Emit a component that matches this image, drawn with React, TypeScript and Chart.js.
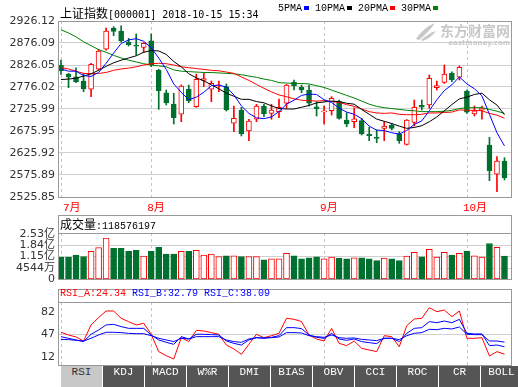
import React, { useEffect, useRef } from "react";
import { Chart, registerables } from "chart.js";

Chart.register(...registerables);

// ---------------- data ----------------
const dates = [
  "2018-07-16","2018-07-17","2018-07-18","2018-07-19","2018-07-20","2018-07-23","2018-07-24","2018-07-25","2018-07-26","2018-07-27","2018-07-30","2018-07-31",
  "2018-08-01","2018-08-02","2018-08-03","2018-08-06","2018-08-07","2018-08-08","2018-08-09","2018-08-10","2018-08-13","2018-08-14","2018-08-15","2018-08-16","2018-08-17","2018-08-20","2018-08-21","2018-08-22","2018-08-23","2018-08-24","2018-08-27","2018-08-28","2018-08-29","2018-08-30","2018-08-31",
  "2018-09-03","2018-09-04","2018-09-05","2018-09-06","2018-09-07","2018-09-10","2018-09-11","2018-09-12","2018-09-13","2018-09-14","2018-09-17","2018-09-18","2018-09-19","2018-09-20","2018-09-21","2018-09-25","2018-09-26","2018-09-27","2018-09-28",
  "2018-10-08","2018-10-09","2018-10-10","2018-10-11","2018-10-12","2018-10-15",
];

const open = [2826.0,2805.6,2799.4,2789.7,2770.8,2816.3,2861.8,2910.2,2903.4,2878.4,2871.5,2866.3,2881.3,2814.7,2763.0,2737.3,2714.0,2771.5,2731.2,2791.0,2770.8,2778.5,2776.7,2693.5,2723.7,2676.0,2702.6,2732.8,2716.2,2719.8,2739.0,2786.7,2775.3,2769.2,2731.2,2719.2,2722.1,2742.6,2700.9,2697.1,2699.4,2669.1,2661.6,2682.1,2689.6,2669.1,2645.7,2695.7,2734.5,2735.1,2774.4,2786.7,2807.2,2798.1,2766.9,2714.6,2723.7,2644.1,2577.5,2607.7];
const close = [2813.1,2798.1,2788.1,2771.5,2827.6,2857.9,2903.4,2902.7,2881.3,2872.2,2868.6,2875.4,2826.0,2767.6,2740.3,2706.2,2778.3,2744.9,2793.5,2795.0,2784.4,2781.0,2723.7,2704.8,2669.1,2698.7,2732.8,2714.6,2723.7,2729.8,2780.6,2779.0,2769.2,2739.0,2726.7,2722.1,2750.3,2704.8,2691.9,2703.9,2669.1,2665.3,2659.3,2687.3,2682.1,2653.9,2700.9,2729.8,2729.9,2795.8,2779.0,2805.6,2791.9,2820.8,2718.5,2722.1,2727.6,2585.7,2607.7,2569.7];
const high = [2837.4,2807.2,2819.9,2807.2,2829.9,2861.8,2910.2,2913.2,2915.4,2886.8,2896.6,2876.8,2896.6,2816.3,2769.2,2761.7,2780.6,2780.6,2805.6,2807.2,2789.7,2789.7,2782.8,2732.8,2729.8,2702.6,2736.7,2736.7,2736.7,2748.7,2782.0,2791.9,2780.6,2780.6,2742.6,2732.8,2754.0,2746.4,2717.6,2728.9,2704.8,2684.4,2678.2,2697.1,2693.5,2674.4,2702.0,2746.4,2746.4,2803.3,2789.7,2826.0,2810.8,2823.8,2769.2,2732.8,2732.8,2661.6,2617.5,2615.2];
const low = [2804.9,2774.4,2785.8,2765.3,2754.0,2814.7,2860.0,2892.7,2877.7,2869.3,2848.8,2854.0,2822.2,2725.3,2735.1,2691.9,2697.1,2740.3,2729.8,2776.7,2742.6,2765.3,2721.4,2674.4,2664.6,2653.9,2697.1,2708.5,2702.6,2706.2,2727.6,2769.2,2763.0,2732.8,2710.1,2691.9,2712.3,2702.6,2685.7,2683.4,2666.9,2653.9,2649.3,2653.9,2678.2,2648.0,2644.0,2687.3,2723.7,2727.6,2769.2,2784.4,2788.1,2791.9,2716.2,2710.1,2702.6,2562.9,2537.9,2564.5];

const ma5 = [2817,2812,2812,2802,2800,2809,2830,2853,2875,2883,2886,2880,2865,2842,2816,2783,2764,2747,2753,2764,2779,2780,2776,2758,2733,2716,2706,2704,2708,2720,2737,2746,2757,2760,2759,2747,2741,2728,2719,2714,2704,2687,2678,2677,2672,2669,2677,2691,2699,2722,2747,2768,2781,2799,2783,2772,2756,2714,2672,2642];
const ma10 = [2793,2794,2796,2801,2806,2814,2823,2831,2837,2842,2847,2855,2859,2858,2850,2834,2822,2806,2797,2790,2781,2772,2762,2755,2748,2748,2743,2740,2733,2727,2726,2726,2730,2734,2740,2742,2744,2743,2739,2737,2725,2714,2703,2698,2693,2687,2682,2684,2688,2697,2708,2722,2736,2749,2753,2759,2762,2747,2735,2713];
const ma20 = [2820,2817,2812,2807,2806,2807,2809,2814,2817,2819,2822,2826,2829,2830,2829,2826,2822,2820,2818,2816,2814,2813,2810,2807,2799,2791,2782,2773,2765,2758,2754,2749,2746,2745,2744,2745,2743,2741,2736,2732,2726,2720,2717,2716,2717,2714,2713,2713,2714,2717,2717,2718,2719,2724,2723,2723,2722,2716,2712,2705];
const ma30 = [2906,2899,2890,2879,2870,2861,2855,2848,2842,2837,2833,2829,2826,2824,2822,2815,2812,2811,2810,2809,2809,2808,2807,2806,2804,2801,2798,2794,2791,2786,2785,2784,2784,2783,2779,2775,2769,2763,2757,2751,2744,2737,2732,2729,2727,2725,2723,2722,2720,2720,2720,2721,2723,2727,2729,2729,2729,2725,2721,2716];

// volume in 亿 (100 million)
const volume = [1.12,1.12,1.25,1.16,1.47,1.70,2.28,1.66,1.66,1.47,1.54,1.18,1.47,1.72,1.31,1.31,1.47,1.47,1.53,1.25,1.30,1.16,1.20,1.20,1.16,1.16,1.16,0.96,1.02,1.02,1.35,1.20,1.02,1.08,1.14,1.02,1.12,1.06,1.02,1.08,1.08,1.02,0.91,1.06,1.02,0.91,1.18,1.41,1.14,1.60,1.12,1.41,1.25,1.35,1.49,1.20,1.12,1.95,1.72,1.18576197];

const rsiA = [49.4,46.3,44.0,39.4,57.8,66.2,73.8,73.8,65.4,61.6,57.8,59.7,47.1,27.2,22.6,18.8,43.2,38.7,51.6,50.9,49.0,47.1,34.8,30.3,24.1,35.6,47.1,43.2,45.5,48.2,65.4,64.3,61.6,46.3,41.7,39.4,53.9,36.7,34.1,39.4,31.0,29.1,27.2,45.5,44.4,32.9,57.0,64.6,65.4,77.6,73.0,74.9,67.3,73.8,42.5,42.5,43.2,22.2,27.2,24.34];
const rsiB = [44.4,42.5,40.6,38.7,47.1,52.0,57.8,58.5,55.9,53.9,53.9,53.9,46.3,40.6,37.9,35.6,44.4,41.7,47.1,47.1,46.7,46.3,39.4,36.7,34.8,40.6,43.2,42.5,43.6,45.5,54.7,54.7,53.6,46.3,43.6,42.5,48.2,41.7,40.2,41.7,38.7,37.5,36.4,42.5,42.5,38.7,48.2,53.9,54.7,61.6,60.4,62.3,60.4,64.2,48.2,47.5,47.5,34.1,34.8,32.79];
const rsiC = [41.3,41.0,40.2,39.4,42.5,46.3,49.4,49.4,49.0,48.2,47.8,47.8,45.5,42.5,40.6,38.7,42.5,41.7,44.4,44.4,44.4,44.4,40.6,38.7,37.9,41.7,43.2,42.9,43.2,44.0,49.0,49.0,48.6,45.5,44.4,43.6,46.3,43.2,42.5,42.9,41.3,40.6,39.8,42.5,42.5,41.0,45.5,48.2,49.0,52.8,52.4,53.9,53.2,55.5,47.1,46.7,46.7,39.4,39.4,38.09];

const priceTickLabels = ["2926.12","2876.09","2826.05","2776.02","2725.99","2675.95","2625.92","2575.89","2525.85"];
const volTickValues = [-0.2356, 0.4544, 1.15, 1.84, 2.53];
const volTickLabels = ["0", "4544万", "1.15亿", "1.84亿", "2.53亿"];
const rsiTickValues = [82, 47, 12];
const rsiTickLabels = ["82", "47", "12"];

const maNames = ["5PMA", "10PMA", "20PMA", "30PMA"];
const tabs = ["RSI", "KDJ", "MACD", "W%R", "DMI", "BIAS", "OBV", "CCI", "ROC", "CR", "BOLL"];

// ---------------- styles ----------------
const RED = "#ff0000";
const GREEN = "#00702f";
const BLUE = "#0000ff";
const maColors = ["#0000ff", "#000000", "#ff0000", "#008000"];
const FRAME = "#999999";
const GRID = "#d0d0d0";
const DASH = "#c4c4c4";
const TICK_FONT = '11px "DejaVu Sans", sans-serif';
const MONO = '"Liberation Mono", "DejaVu Sans Mono", monospace';
const CJK = '"Noto Sans CJK SC", sans-serif';

const X_MIN = -0.4;
const X_MAX = 60.0;
const AXIS_W = 58;

const isUp = (i: number) => close[i] >= open[i];
const monthStarts = dates
  .map((d, i) => ({ i, m: parseInt(d.slice(5, 7), 10) }))
  .filter((o, k, arr) => k === 0 || o.m !== arr[k - 1].m);

const xScale = { type: "linear", min: X_MIN, max: X_MAX, offset: false, display: false, grid: { offset: false } };

function panelPlugin(extra?: (chart: any) => void) {
  return {
    id: "panel",
    beforeDatasetsDraw(chart: any) {
      const { ctx, chartArea: a, scales } = chart;
      ctx.save();
      ctx.strokeStyle = DASH;
      ctx.lineWidth = 1;
      ctx.setLineDash([3, 3]);
      monthStarts.forEach(({ i }) => {
        const x = Math.round(scales.x.getPixelForValue(i)) + 0.5;
        ctx.beginPath();
        ctx.moveTo(x, a.top);
        ctx.lineTo(x, a.bottom);
        ctx.stroke();
      });
      ctx.restore();
    },
    afterDraw(chart: any) {
      const { ctx, chartArea: a } = chart;
      ctx.save();
      ctx.strokeStyle = FRAME;
      ctx.lineWidth = 1;
      ctx.strokeRect(Math.round(a.left) + 0.5, Math.round(a.top) + 0.5, Math.round(a.right - a.left) - 1, Math.round(a.bottom - a.top));
      ctx.restore();
      if (extra) extra(chart);
    },
  };
}

function baseOptions(y: any, padding: any) {
  return {
    responsive: false,
    animation: false,
    events: [],
    layout: { padding },
    plugins: { legend: { display: false }, tooltip: { enabled: false } },
    scales: { x: xScale, y },
  };
}

function priceConfig(): any {
  const idx = dates.map((_, i) => i);
  const watermark = {
    id: "watermark",
    beforeDatasetsDraw(chart: any) {
      const { ctx, chartArea: a } = chart;
      ctx.save();
      ctx.fillStyle = "#c8c8c8";
      ctx.textAlign = "right";
      ctx.textBaseline = "middle";
      ctx.font = 'bold 14px "Noto Sans CJK SC", sans-serif';
      ctx.fillText("东方财富网", a.right - 2, a.top + 10);
      ctx.font = 'bold 7px "DejaVu Sans", sans-serif';
      ctx.fillText("eastmoney.com", a.right - 2, a.top + 22);
      const lx = a.right - 96;
      const ly = a.top + 2;
      ctx.beginPath();
      ctx.moveTo(lx, ly + 16);
      ctx.quadraticCurveTo(lx + 8, ly + 4, lx + 19, ly);
      ctx.quadraticCurveTo(lx + 13, ly + 9, lx + 3, ly + 17);
      ctx.closePath();
      ctx.fill();
      ctx.beginPath();
      ctx.moveTo(lx + 5, ly + 17);
      ctx.quadraticCurveTo(lx + 13, ly + 10, lx + 20, ly + 8);
      ctx.quadraticCurveTo(lx + 15, ly + 15, lx + 7, ly + 18);
      ctx.closePath();
      ctx.fill();
      ctx.restore();
    },
  };
  const monthLabels = (chart: any) => {
    const { ctx, chartArea: a, scales } = chart;
    ctx.save();
    ctx.fillStyle = RED;
    ctx.font = `11px ${MONO}, ${CJK}`;
    ctx.textAlign = "left";
    ctx.textBaseline = "middle";
    monthStarts.forEach(({ i, m }) => {
      const x = Math.max(a.left + 5, scales.x.getPixelForValue(i) - 4);
      ctx.fillText(`${m}月`, x, a.bottom + 11);
    });
    ctx.restore();
  };
  const lineDs = (data: number[], color: string) => ({
    type: "line",
    data: data.map((v, i) => ({ x: i, y: v })),
    borderColor: color,
    borderWidth: 1,
    pointRadius: 0,
    tension: 0,
    fill: false,
    order: 0,
  });
  return {
    type: "bar",
    data: {
      datasets: [
        {
          type: "bar",
          data: idx.map((i) => ({ x: i, y: [low[i], high[i]] })),
          backgroundColor: idx.map((i) => (isUp(i) ? RED : GREEN)),
          borderWidth: 0,
          barThickness: 1,
          grouped: false,
          order: 2,
        },
        {
          type: "bar",
          data: idx.map((i) => ({ x: i, y: [open[i], close[i]] })),
          backgroundColor: idx.map((i) => (isUp(i) ? "#ffffff" : GREEN)),
          borderColor: idx.map((i) => (isUp(i) ? RED : GREEN)),
          borderWidth: 1,
          borderSkipped: false,
          barThickness: 5,
          minBarLength: 1,
          grouped: false,
          order: 1,
        },
        lineDs(ma5, maColors[0]),
        lineDs(ma10, maColors[1]),
        lineDs(ma20, maColors[2]),
        lineDs(ma30, maColors[3]),
      ],
    },
    options: baseOptions(
      {
        type: "linear",
        min: parseFloat(priceTickLabels[priceTickLabels.length - 1]),
        max: parseFloat(priceTickLabels[0]),
        afterFit: (s: any) => { s.width = AXIS_W; },
        afterBuildTicks: (s: any) => { s.ticks = priceTickLabels.map((t) => ({ value: parseFloat(t) })); },
        ticks: { callback: (_v: any, i: number) => priceTickLabels[i], color: "#333", font: { size: 11 }, padding: 3, autoSkip: false },
        grid: { color: GRID, drawTicks: false },
        border: { display: false },
      },
      { left: 0, right: 6, top: 21, bottom: 18 }
    ),
    plugins: [watermark, panelPlugin(monthLabels)],
  };
}

function volumeConfig(): any {
  const idx = dates.map((_, i) => i);
  const header = (chart: any) => {
    const { ctx, chartArea: a } = chart;
    ctx.save();
    ctx.strokeStyle = FRAME;
    ctx.lineWidth = 1;
    ctx.strokeRect(Math.round(a.left) + 0.5, 0.5, Math.round(a.right - a.left) - 1, Math.round(a.top));
    ctx.restore();
  };
  return {
    type: "bar",
    data: {
      datasets: [
        {
          data: idx.map((i) => ({ x: i, y: volume[i] })),
          base: volTickValues[0],
          backgroundColor: idx.map((i) => (isUp(i) ? "#ffffff" : GREEN)),
          borderColor: idx.map((i) => (isUp(i) ? RED : GREEN)),
          borderWidth: 1,
          borderSkipped: false,
          barThickness: 6,
          grouped: false,
        },
      ],
    },
    options: baseOptions(
      {
        type: "linear",
        min: volTickValues[0],
        max: 2.588,
        afterFit: (s: any) => { s.width = AXIS_W; },
        afterBuildTicks: (s: any) => { s.ticks = volTickValues.map((v) => ({ value: v })); },
        ticks: { callback: (_v: any, i: number) => volTickLabels[i], color: "#333", font: { size: 11, family: '"DejaVu Sans", "Noto Sans CJK SC", sans-serif' }, padding: 3, autoSkip: false },
        grid: { color: GRID, drawTicks: false },
        border: { display: false },
      },
      { left: 0, right: 6, top: 18, bottom: 8 }
    ),
    plugins: [panelPlugin(header)],
  };
}

function rsiConfig(): any {
  const lineDs = (data: number[], color: string) => ({
    type: "line",
    data: data.map((v, i) => ({ x: i, y: v })),
    borderColor: color,
    borderWidth: 1,
    pointRadius: 0,
    tension: 0,
    fill: false,
  });
  const extra = (chart: any) => {
    const { ctx, chartArea: a, scales } = chart;
    ctx.save();
    ctx.strokeStyle = FRAME;
    ctx.lineWidth = 1;
    ctx.strokeRect(Math.round(a.left) + 0.5, 0.5, Math.round(a.right - a.left) - 1, Math.round(a.top));
    ctx.fillStyle = "#333";
    ctx.font = TICK_FONT;
    ctx.textAlign = "right";
    ctx.textBaseline = "middle";
    rsiTickValues.forEach((v, k) => {
      let y = scales.y.getPixelForValue(v);
      if (k === 0) y += 8;
      if (k === rsiTickValues.length - 1) y -= 8;
      ctx.fillText(rsiTickLabels[k], a.left - 3, y);
    });
    ctx.restore();
  };
  return {
    type: "line",
    data: { datasets: [lineDs(rsiC, BLUE), lineDs(rsiB, BLUE), lineDs(rsiA, RED)] },
    options: baseOptions(
      {
        type: "linear",
        min: 11.9,
        max: 84.1,
        afterFit: (s: any) => { s.width = AXIS_W; },
        afterBuildTicks: (s: any) => { s.ticks = [{ value: rsiTickValues[1] }]; },
        ticks: { display: false },
        grid: { color: GRID, drawTicks: false },
        border: { display: false },
      },
      { left: 0, right: 6, top: 13, bottom: 22 }
    ),
    plugins: [panelPlugin(extra)],
  };
}

export default function App() {
  const priceRef = useRef<HTMLCanvasElement>(null);
  const volRef = useRef<HTMLCanvasElement>(null);
  const rsiRef = useRef<HTMLCanvasElement>(null);

  useEffect(() => {
    Chart.defaults.font.family = '"DejaVu Sans", sans-serif';
    const charts = [
      new Chart(priceRef.current as HTMLCanvasElement, priceConfig()),
      new Chart(volRef.current as HTMLCanvasElement, volumeConfig()),
      new Chart(rsiRef.current as HTMLCanvasElement, rsiConfig()),
    ];
    return () => charts.forEach((c) => c.destroy());
  }, []);

  const last = dates.length - 1;
  const abs = (left: number, top: number, extra: any = {}) => ({ position: "absolute" as const, left, top, whiteSpace: "pre" as const, ...extra });

  return (
    <div style={{ position: "absolute", left: 0, top: 0, width: 518, height: 387, overflow: "hidden", background: "#fff" }}>
      <canvas ref={priceRef} width={518} height={215} style={abs(0, 0)} />
      <canvas ref={volRef} width={518} height={74} style={abs(0, 215)} />
      <canvas ref={rsiRef} width={518} height={98} style={abs(0, 289)} />

      <div style={abs(60, 4, { height: 17, lineHeight: "17px", color: "#000" })}>
        <span style={{ font: `12px ${CJK}` }}>上证指数</span>
        <span style={{ font: `10px "DejaVu Sans Mono", monospace` }}>{`[000001] ${dates[last]} 15:34`}</span>
      </div>

      <div style={abs(278, 3, { height: 17, lineHeight: "17px", font: `10px ${MONO}`, color: "#000" })}>
        {maNames.map((n, k) => (
          <span key={n}>
            {n}
            <span style={{ display: "inline-block", width: 5, height: 4, background: maColors[k], marginLeft: 2, marginRight: 6, verticalAlign: "middle" }} />
          </span>
        ))}
      </div>

      <div style={abs(60, 215, { height: 17, lineHeight: "17px", color: "#000" })}>
        <span style={{ font: `12px ${CJK}` }}>成交量</span>
        <span style={{ font: `10px ${MONO}` }}>{`:${Math.round(volume[last] * 1e8)}`}</span>
      </div>

      <div style={abs(60, 288, { height: 16, lineHeight: "16px", font: `10px ${MONO}` })}>
        <span style={{ color: RED }}>{`RSI_A:${rsiA[last].toFixed(2)} `}</span>
        <span style={{ color: BLUE }}>{`RSI_B:${rsiB[last].toFixed(2)} `}</span>
        <span style={{ color: BLUE }}>{`RSI_C:${rsiC[last].toFixed(2)}`}</span>
      </div>

      {tabs.map((t, k) => (
        <div
          key={t}
          style={abs(61 + 42 * k, 366, {
            width: 41,
            height: 21,
            lineHeight: "20px",
            textAlign: "center",
            font: `11px ${MONO}`,
            background: k === 0 ? "#c8c8c8" : "#555555",
            color: k === 0 ? "#333" : "#ffffff",
          })}
        >
          {t}
        </div>
      ))}
    </div>
  );
}
